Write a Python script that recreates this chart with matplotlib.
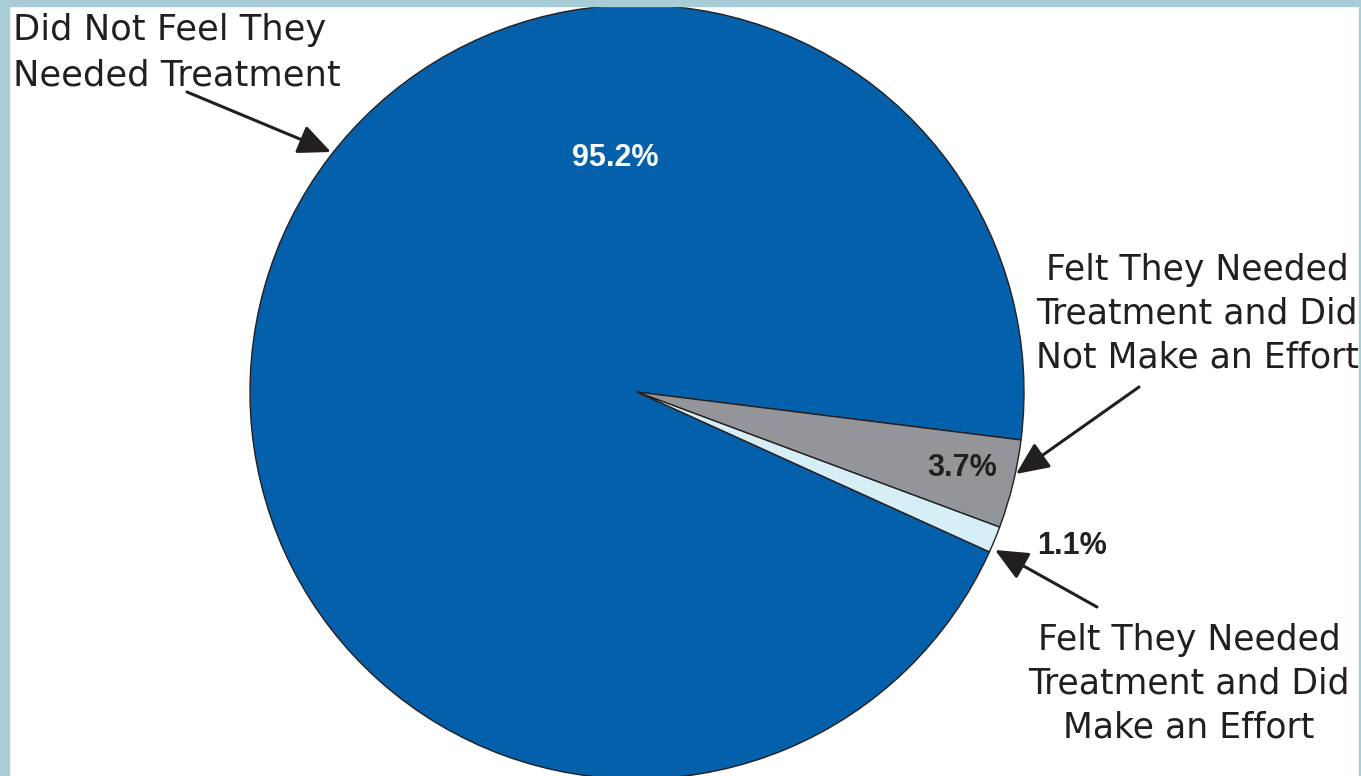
import matplotlib
matplotlib.use("Agg")
import matplotlib.pyplot as plt
from matplotlib.patches import Rectangle

plt.rcParams['font.family'] = ['Liberation Sans', 'DejaVu Sans']

# ---- data ----
categories = ["Did Not Feel They\nNeeded Treatment",
              "Felt They Needed\nTreatment and Did\nNot Make an Effort",
              "Felt They Needed\nTreatment and Did\nMake an Effort"]
values = [95.2, 3.7, 1.1]
pct_labels = ["95.2%", "3.7%", "1.1%"]
colors = ["#0560AB", "#949599", "#D6EEF6"]

W, H = 1361, 776
CX, CY, R = 637, 392, 387  # pie centre / radius in pixels


def d(px, py):
    """pixel -> data coordinates (pie radius 1)"""
    return (px - CX) / R, (CY - py) / R


fig = plt.figure(figsize=(W / 100, H / 100), dpi=100)
fig.patch.set_facecolor("white")
ax = fig.add_axes([0, 0, 1, 1])
ax.axis("off")

wedges, _ = ax.pie(values, colors=colors, startangle=-24.4, counterclock=False,
                   radius=1.0, center=(0, 0),
                   wedgeprops=dict(edgecolor="#231F20", linewidth=1.0))
ax.set_xlim(-CX / R, (W - CX) / R)
ax.set_ylim(-(H - CY) / R, CY / R)
ax.set_aspect("auto")

txt = "#231F20"
# percentage labels
ax.text(*d(615, 158), pct_labels[0], color="white", fontsize=22,
        fontweight="bold", ha="center", va="center")
ax.text(*d(962, 468), pct_labels[1], color=txt, fontsize=22,
        fontweight="bold", ha="center", va="center")
ax.text(*d(1072, 546), pct_labels[2], color=txt, fontsize=22,
        fontweight="bold", ha="center", va="center")

# category labels
lab = dict(color=txt, family=["DejaVu Sans"])
ax.text(*d(13, 13), categories[0], fontsize=25.4, ha="left",
        va="top", linespacing=1.43, **lab)
ax.text(*d(1197, 253), categories[1], fontsize=24.9, ha="center",
        va="top", linespacing=1.36, multialignment="center", **lab)
ax.text(*d(1189, 623), categories[2], fontsize=24.9, ha="center",
        va="top", linespacing=1.36, multialignment="center", **lab)

aprops = dict(arrowstyle="-|>,head_length=2.0,head_width=0.9",
              mutation_scale=10, lw=2.2, color=txt, shrinkA=0, shrinkB=0)
ax.annotate("", xy=d(331, 152), xytext=d(187, 92), arrowprops=aprops)
ax.annotate("", xy=d(1016, 474), xytext=d(1139, 387), arrowprops=aprops)
ax.annotate("", xy=d(995, 550), xytext=d(1097, 607), arrowprops=aprops)

# light blue frame
bc = "#A9CDD6"
fig.patches.append(Rectangle((0, 0), 9 / W, 1, transform=fig.transFigure,
                             color=bc, zorder=10))
fig.patches.append(Rectangle((0, 1 - 6 / H), 1, 6 / H, transform=fig.transFigure,
                             color=bc, zorder=10))
fig.patches.append(Rectangle((1 - 2 / W, 0), 2 / W, 1, transform=fig.transFigure,
                             color=bc, zorder=10))

fig.savefig("out.png", dpi=100)
